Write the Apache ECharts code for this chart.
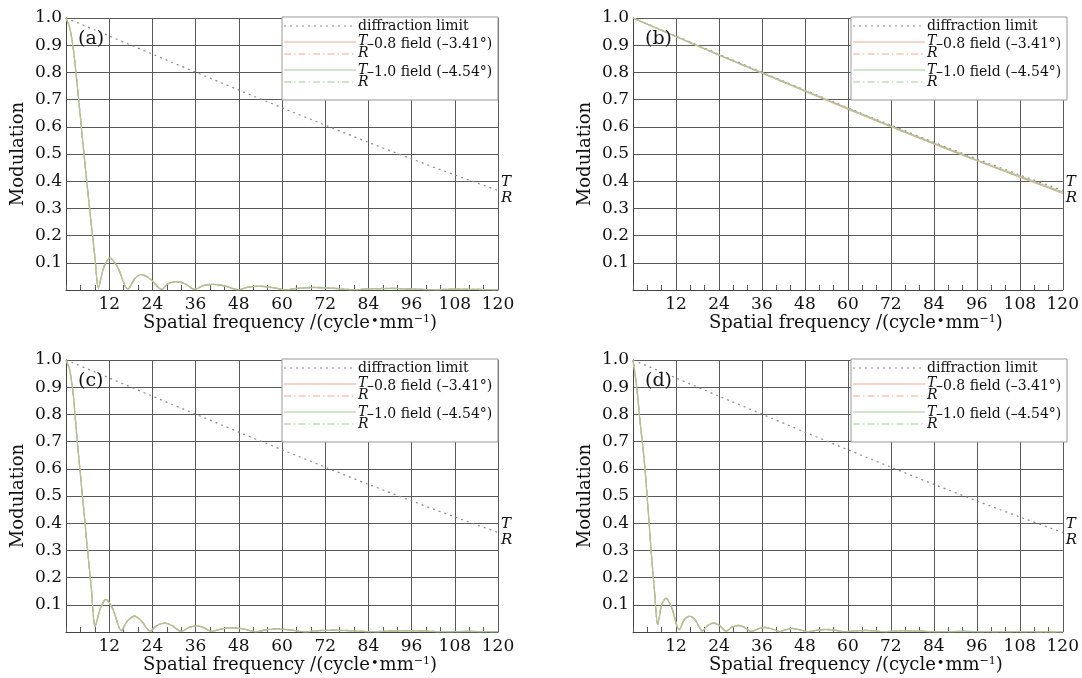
<!DOCTYPE html>
<html>
<head>
<meta charset="utf-8">
<script src="https://cdn.jsdelivr.net/npm/echarts@6/dist/echarts.min.js"></script>
<style>
  html, body { margin: 0; padding: 0; background: #fff; }
  #chart { width: 1082px; height: 678px; }
</style>
</head>
<body>
<div id="chart"></div>
<script>
// diffraction limit, same in every panel
const freqDL = [0, 12, 24, 36, 48, 60, 72, 84, 96, 108, 120]
const diffLimit = [1, 0.934, 0.867, 0.801, 0.735, 0.670, 0.606, 0.543, 0.482, 0.423, 0.366]

// panel (a)
const freqA = [0, 1, 2, 3, 4, 5, 6, 7, 8, 9, 10.4, 12.2, 14.3, 17.2, 19, 20.8, 23.5, 26.6, 28.2, 30.5, 33, 35.8,
  38, 40.8, 44, 47.9, 50.5, 53.5, 57, 61.2, 64.5, 69, 74, 79.7, 84, 90, 96, 102, 108, 114, 120]
const aT08 = [1, 0.965, 0.89, 0.77, 0.635, 0.5, 0.37, 0.245, 0.125, 0.008, 0.08, 0.117, 0.085, 0.003, 0.04, 0.057, 0.04, 0.002,
  0.022, 0.031, 0.024, 0.002, 0.016, 0.021, 0.015, 0.001, 0.01, 0.014, 0.01, 0.001, 0.007, 0.01, 0.007, 0.001,
  0.004, 0.006, 0.004, 0.001, 0.003, 0.002, 0.001]
const aR08 = [1, 0.966, 0.892, 0.772, 0.637, 0.502, 0.371, 0.246, 0.126, 0.009, 0.081, 0.118, 0.086, 0.004, 0.041, 0.058, 0.041, 0.002,
  0.023, 0.032, 0.024, 0.002, 0.016, 0.022, 0.016, 0.001, 0.011, 0.014, 0.01, 0.001, 0.007, 0.01, 0.007, 0.001,
  0.004, 0.006, 0.004, 0.001, 0.003, 0.002, 0.001]
const aT10 = [1, 0.964, 0.888, 0.768, 0.633, 0.498, 0.368, 0.243, 0.123, 0.007, 0.079, 0.116, 0.084, 0.003, 0.039, 0.056, 0.039, 0.002,
  0.022, 0.03, 0.023, 0.002, 0.015, 0.021, 0.015, 0.001, 0.01, 0.013, 0.009, 0.001, 0.006, 0.009, 0.006, 0.001,
  0.004, 0.005, 0.004, 0.001, 0.003, 0.002, 0.001]
const aR10 = [1, 0.965, 0.89, 0.77, 0.635, 0.5, 0.37, 0.244, 0.124, 0.008, 0.08, 0.117, 0.085, 0.003, 0.04, 0.057, 0.04, 0.002,
  0.022, 0.031, 0.023, 0.002, 0.016, 0.021, 0.015, 0.001, 0.01, 0.014, 0.01, 0.001, 0.007, 0.01, 0.007, 0.001,
  0.004, 0.006, 0.004, 0.001, 0.003, 0.002, 0.001]

// panel (b)
const freqB = [0, 12, 24, 36, 48, 60, 72, 84, 96, 108, 120]
const bT08 = [1, 0.931, 0.863, 0.797, 0.731, 0.665, 0.600, 0.537, 0.475, 0.415, 0.355]
const bR08 = [1, 0.932, 0.864, 0.798, 0.732, 0.667, 0.602, 0.539, 0.477, 0.417, 0.358]
const bT10 = [1, 0.933, 0.865, 0.799, 0.733, 0.668, 0.603, 0.540, 0.478, 0.419, 0.360]
const bR10 = [1, 0.932, 0.864, 0.798, 0.732, 0.666, 0.601, 0.538, 0.476, 0.416, 0.357]

// panel (c)
const freqC = [0, 1, 2, 3, 4, 5, 6, 7, 8.1, 9.5, 11.1, 13, 15.4, 17, 19.1, 21, 23.4, 25.2, 27.4, 29.5, 32,
  34, 36.3, 38.3, 40.4, 43, 46.3, 49.5, 52.8, 55.5, 58.5, 62, 66.7, 70, 74, 79, 85, 90, 95, 100, 105, 112, 120]
const cT08 = [1, 0.965, 0.875, 0.72, 0.58, 0.44, 0.3, 0.165, 0.02, 0.085, 0.12, 0.085, 0.005, 0.04, 0.058, 0.04, 0.003,
  0.024, 0.033, 0.024, 0.002, 0.016, 0.023, 0.016, 0.002, 0.011, 0.016, 0.011, 0.001, 0.008, 0.012, 0.008, 0.001,
  0.005, 0.007, 0.005, 0.001, 0.004, 0.005, 0.003, 0.001, 0.002, 0.001]
const cR08 = [1, 0.966, 0.876, 0.722, 0.582, 0.442, 0.302, 0.167, 0.021, 0.086, 0.121, 0.086, 0.006, 0.041, 0.059, 0.041, 0.003,
  0.025, 0.033, 0.024, 0.002, 0.016, 0.023, 0.016, 0.002, 0.011, 0.016, 0.011, 0.001, 0.008, 0.012, 0.008, 0.001,
  0.005, 0.007, 0.005, 0.001, 0.004, 0.005, 0.003, 0.001, 0.002, 0.001]
const cT10 = [1, 0.964, 0.873, 0.718, 0.578, 0.438, 0.298, 0.163, 0.019, 0.084, 0.119, 0.084, 0.005, 0.039, 0.057, 0.039, 0.003,
  0.023, 0.032, 0.023, 0.002, 0.015, 0.022, 0.015, 0.002, 0.01, 0.015, 0.01, 0.001, 0.007, 0.011, 0.007, 0.001,
  0.005, 0.006, 0.004, 0.001, 0.003, 0.004, 0.003, 0.001, 0.002, 0.001]
const cR10 = [1, 0.965, 0.874, 0.72, 0.58, 0.44, 0.3, 0.165, 0.02, 0.085, 0.12, 0.085, 0.005, 0.04, 0.058, 0.04, 0.003,
  0.024, 0.033, 0.024, 0.002, 0.016, 0.023, 0.016, 0.002, 0.011, 0.016, 0.011, 0.001, 0.008, 0.012, 0.008, 0.001,
  0.005, 0.007, 0.005, 0.001, 0.004, 0.005, 0.003, 0.001, 0.002, 0.001]

// panel (d)
const freqD = [0, 1, 2, 3, 4, 5, 6, 6.9, 8, 9.2, 10.8, 12.9, 14.3, 15.9, 17.5, 19.4, 20.9, 22.6, 24.2, 26,
  27.6, 29.4, 31.2, 33, 34.9, 36.8, 38.8, 41, 42.6, 44.3, 46.5, 48.8, 51.3, 53.8, 56.4, 59,
  62, 65, 67.5, 70, 73, 76, 80, 84, 92, 100, 110, 120]
const dT08 = [1, 0.905, 0.77, 0.65, 0.49, 0.31, 0.15, 0.028, 0.1, 0.124, 0.09, 0.008, 0.045, 0.058, 0.042, 0.004,
  0.025, 0.033, 0.024, 0.003, 0.018, 0.024, 0.017, 0.002, 0.012, 0.017, 0.012, 0.001, 0.009, 0.013, 0.009, 0.001,
  0.007, 0.01, 0.007, 0.001, 0.004, 0.006, 0.004, 0.001, 0.003, 0.005, 0.003, 0.001, 0.002, 0.001, 0.001, 0]
const dR08 = [1, 0.906, 0.772, 0.652, 0.492, 0.312, 0.152, 0.03, 0.101, 0.125, 0.091, 0.009, 0.046, 0.059, 0.043, 0.004,
  0.026, 0.034, 0.025, 0.003, 0.018, 0.024, 0.017, 0.002, 0.012, 0.017, 0.012, 0.001, 0.009, 0.013, 0.009, 0.001,
  0.007, 0.01, 0.007, 0.001, 0.004, 0.006, 0.004, 0.001, 0.003, 0.005, 0.003, 0.001, 0.002, 0.001, 0.001, 0]
const dT10 = [1, 0.904, 0.768, 0.648, 0.488, 0.308, 0.148, 0.027, 0.099, 0.123, 0.089, 0.008, 0.044, 0.057, 0.041, 0.004,
  0.024, 0.032, 0.023, 0.003, 0.017, 0.023, 0.016, 0.002, 0.011, 0.016, 0.011, 0.001, 0.008, 0.012, 0.008, 0.001,
  0.006, 0.009, 0.006, 0.001, 0.004, 0.005, 0.004, 0.001, 0.003, 0.004, 0.003, 0.001, 0.002, 0.001, 0.001, 0]
const dR10 = [1, 0.905, 0.77, 0.65, 0.49, 0.31, 0.15, 0.028, 0.1, 0.124, 0.09, 0.008, 0.045, 0.058, 0.042, 0.004,
  0.025, 0.033, 0.024, 0.003, 0.018, 0.024, 0.017, 0.002, 0.012, 0.017, 0.012, 0.001, 0.009, 0.013, 0.009, 0.001,
  0.007, 0.01, 0.007, 0.001, 0.004, 0.006, 0.004, 0.001, 0.003, 0.005, 0.003, 0.001, 0.002, 0.001, 0.001, 0]

const panelNames = ['(a)', '(b)', '(c)', '(d)']
const legendTexts = ['diffraction limit', '\u20130.8 field (\u20133.41\u00b0)', '\u20131.0 field (\u20134.54\u00b0)']
const panels = [
  { freq: freqA, curves: [aT08, aR08, aT10, aR10] },
  { freq: freqB, curves: [bT08, bR08, bT10, bR10] },
  { freq: freqC, curves: [cT08, cR08, cT10, cR10] },
  { freq: freqD, curves: [dT08, dR08, dT10, dR10] }
]

const FONT = 'DejaVu Serif'
const ORANGE = '#f5a68d'
const GREEN = '#a3c99a'
const GRID_COLOR = '#5a5a5a'
const DASH_DOT = [7, 3, 1.5, 3]

const grids = [
  { left: 66, top: 18, width: 432, height: 272 },
  { left: 633, top: 18, width: 434, height: 272 },
  { left: 66, top: 360, width: 432, height: 272 },
  { left: 633, top: 360, width: 434, height: 272 }
]

function zip(xs, ys) {
  return xs.map((x, i) => [x, ys[i]])
}

function curve(idx, xs, ys, color, dash) {
  return {
    type: 'line',
    xAxisIndex: idx,
    yAxisIndex: idx,
    data: zip(xs, ys),
    showSymbol: false,
    smooth: 0.3,
    silent: true,
    lineStyle: { color: color, width: 1.2, type: dash }
  }
}

function legendGraphics(g, idx) {
  const right = g.left + g.width
  const L = right - 216
  const T = g.top - 1
  const x1 = L + 2
  const x2 = L + 74
  const tx = L + 76
  const txt = (text, x, y, font) => ({
    type: 'text',
    z: 101,
    style: { text: text, x: x, y: y, font: font, fill: '#111', verticalAlign: 'middle', textVerticalAlign: 'middle' }
  })
  const seg = (y, color, dash) => ({
    type: 'line',
    z: 101,
    shape: { x1: x1, y1: y, x2: x2, y2: y },
    style: { stroke: color, lineWidth: 1.2, lineDash: dash }
  })
  return [
    { type: 'rect', z: 100, shape: { x: L, y: T, width: 216, height: 83 },
      style: { fill: '#fff', stroke: '#999', lineWidth: 1 } },
    seg(T + 9, '#8a8a8a', [2, 4]),
    txt(legendTexts[0], tx, T + 9, '14px ' + FONT),
    seg(T + 25, ORANGE, null),
    seg(T + 37, ORANGE, DASH_DOT),
    txt('T', tx, T + 24, 'italic 14px ' + FONT),
    txt('R', tx, T + 36, 'italic 14px ' + FONT),
    txt(legendTexts[1], tx + 9, T + 27, '14px ' + FONT),
    seg(T + 53, GREEN, null),
    seg(T + 65, GREEN, DASH_DOT),
    txt('T', tx, T + 53, 'italic 14px ' + FONT),
    txt('R', tx, T + 65, 'italic 14px ' + FONT),
    txt(legendTexts[2], tx + 9, T + 55, '14px ' + FONT),
    txt(panelNames[idx], g.left + 12, g.top + 21, '19px ' + FONT)
  ]
}

const series = []
panels.forEach((p, i) => {
  series.push({
    type: 'line',
    xAxisIndex: i,
    yAxisIndex: i,
    data: zip(freqDL, diffLimit),
    showSymbol: false,
    smooth: 0.3,
    silent: true,
    lineStyle: { color: '#8a8a8a', width: 1.2, type: [2, 4] },
    endLabel: {
      show: true,
      distance: 3,
      formatter: '{t|T}\n{t|R}',
      rich: { t: { fontFamily: FONT, fontStyle: 'italic', fontSize: 15, lineHeight: 16, color: '#111' } }
    }
  })
  series.push(curve(i, p.freq, p.curves[0], ORANGE, 'solid'))
  series.push(curve(i, p.freq, p.curves[2], GREEN, 'solid'))
  series.push(curve(i, p.freq, p.curves[1], ORANGE, DASH_DOT))
  series.push(curve(i, p.freq, p.curves[3], GREEN, DASH_DOT))
})

const chart = echarts.init(document.getElementById('chart'))
chart.setOption({
  animation: false,
  backgroundColor: '#fff',
  grid: grids,
  xAxis: grids.map((g, i) => ({
    type: 'value',
    gridIndex: i,
    min: 0,
    max: 120,
    interval: 12,
    name: 'Spatial frequency /(cycle{dot|\u2022}mm{sup|\u22121})',
    nameLocation: 'middle',
    nameGap: 24,
    nameTextStyle: {
      fontFamily: FONT, fontSize: 18, color: '#111', padding: [0, 0, 0, 16],
      rich: {
        sup: { fontFamily: FONT, fontSize: 11, verticalAlign: 'top', padding: [0, 0, 8, 0], color: '#111' },
        dot: { fontFamily: FONT, fontSize: 13, color: '#111', padding: [0, 1, 3, 1] }
      }
    },
    axisLine: { show: true, lineStyle: { color: '#444', width: 1 } },
    axisTick: { show: true, inside: true, length: 5, lineStyle: { color: GRID_COLOR } },
    minorTick: { show: true, splitNumber: 3, length: 5, lineStyle: { color: GRID_COLOR } },
    axisLabel: {
      fontFamily: FONT, fontSize: 17, color: '#111', margin: 6,
      formatter: v => (v === 0 ? '' : String(v))
    },
    splitLine: { show: true, lineStyle: { color: GRID_COLOR, width: 1 } }
  })),
  yAxis: grids.map((g, i) => ({
    type: 'value',
    gridIndex: i,
    min: 0,
    max: 1,
    interval: 0.1,
    name: 'Modulation',
    nameLocation: 'middle',
    nameGap: 39,
    nameTextStyle: { fontFamily: FONT, fontSize: 18, color: '#111' },
    axisLine: { show: true, lineStyle: { color: '#444', width: 1 } },
    axisTick: { show: false },
    axisLabel: {
      fontFamily: FONT, fontSize: 17, color: '#111', margin: 4,
      formatter: v => (v === 0 ? '' : v.toFixed(1))
    },
    splitLine: { show: true, lineStyle: { color: GRID_COLOR, width: 1 } }
  })),
  series: series,
  graphic: grids.reduce((acc, g, i) => acc.concat(legendGraphics(g, i)), [])
})
</script>
</body>
</html>
